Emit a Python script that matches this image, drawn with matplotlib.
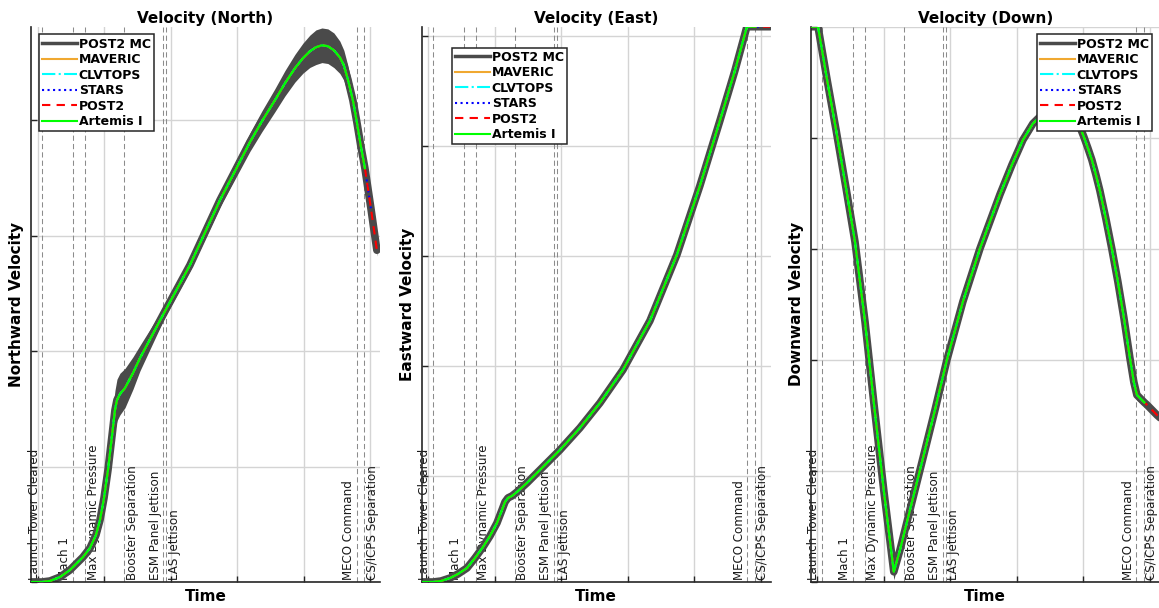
import numpy as np
import matplotlib
matplotlib.use("Agg")
import matplotlib.pyplot as plt
from matplotlib.lines import Line2D

# flight events (s from liftoff)
event_names = ["Launch Tower Cleared", "Mach 1", "Max Dynamic Pressure", "Booster Separation",
               "ESM Panel Jettison", "LAS Jettison", "MECO Command", "CS/ICPS Separation"]
event_times = [7, 53, 71, 130, 189, 193, 480, 491]
event_side = ["left", "left", "right", "right", "left", "right", "left", "right"]

artemis_end = 493   # flight data stops here
stars_end = 502

# northward velocity
t_north = [-10, 6.5, 18.6, 33.6, 48.6, 68.2, 78.7, 87.7, 93.8, 99.8, 105.8, 111.8, 116.3, 119.3,
           123.8, 131.4, 143.4, 153.9, 191.5, 229.1, 274.2, 319.3, 337.4, 356.9, 372.0, 387.0,
           399.0, 409.5, 418.6, 427.6, 436.6, 445.6, 454.6, 460.6, 466.6, 474.2, 480.2, 486.2,
           492.3, 501.3, 510.3]
v_north = [0, 0, 0.9, 4.3, 10.4, 21.6, 29.4, 40.7, 53.7, 72.7, 97.0, 126.4, 148.9, 157.6,
           162.8, 168.0, 181.0, 193.9, 234.6, 274.5, 330.7, 381.0, 399.1, 417.3, 432.0, 445.0,
           453.7, 459.7, 463.2, 464.9, 464.1, 460.6, 454.5, 447.6, 435.5, 417.3, 398.3, 377.5,
           358.4, 323.8, 287.4]
mc_north = [0, 0, 1, 2, 3, 3, 5, 7, 9, 11, 14, 16, 17, 18,
            18, 17, 14, 11, 5, 5, 6, 8, 9, 10, 11, 12,
            13, 14, 15, 15, 15, 15, 14, 13, 12, 10, 10, 9,
            7, 6, 5]

# eastward velocity
t_east = [-10, 7, 19, 32.6, 44.6, 58.1, 70.2, 82.2, 92.7, 103.2, 110.8, 115.3, 119.8, 125.8,
          133.3, 148.3, 167.9, 198, 228, 258.1, 292.7, 333.3, 373.9, 408.5, 438.6, 461.1,
          479.2, 492, 501, 514]
v_east = [40, 40, 49, 76, 113, 167, 258, 358, 458, 576, 695, 767, 804, 822,
          858, 940, 1058, 1240, 1440, 1667, 1967, 2413, 3013, 3640, 4231, 4685,
          5085, 5085, 5085, 5085]
mc_east = [0, 0, 2, 5, 8, 10, 14, 18, 20, 25, 30, 30, 30, 25,
           22, 20, 18, 18, 18, 18, 18, 20, 25, 30, 30, 30,
           0, 0, 0, 0]

# downward velocity
t_down = [-10, 1, 14.6, 28.1, 43.1, 56.6, 71.7, 85.3, 100.2, 115, 124.3, 139.3, 157.4, 176.9,
          194.9, 218.9, 244.5, 274.6, 292.7, 309.2, 324.3, 339.3, 354.4, 367.9, 381.4, 388.9,
          394.9, 400.9, 406.9, 413.0, 419.0, 425.0, 434.0, 443.0, 452.1, 461.1, 470.1, 476.1,
          480.7, 492, 495.7, 510.8, 522.8]
v_down = [0, 0, -119, -232, -363, -484, -664, -851, -1047, -1227, -1178, -1088, -980, -863,
          -750, -619, -500, -378, -311, -255, -218, -196, -185, -182, -194, -207,
          -225, -248, -273, -300, -333, -369, -432, -500, -574, -655, -745, -800,
          -829, -846, -851, -874, -890]
mc_down = [0, 0, 1, 1, 2, 2, 3, 3, 5, 18, 12, 14, 16, 17,
           17, 15, 13, 10, 8, 7, 6, 5, 5, 5, 5, 6,
           7, 8, 10, 12, 14, 16, 18, 20, 22, 22, 22, 20,
           12, 8, 7, 6, 6]

GRAY = "#4a4a4a"


def draw_panel(ax, t, v, mc, title, ylabel, ylim, yticks):
    t = np.array(t, dtype=float)
    v = np.array(v, dtype=float)
    mc = np.array(mc, dtype=float)

    ax.set_xlim(-10, 515)
    ax.set_ylim(ylim)
    ax.set_xticks([0, 100, 200, 300, 400, 500])
    ax.set_yticks(yticks)
    ax.tick_params(direction="in", length=4, width=1, labelleft=False, labelbottom=False,
                   color="#262626")
    ax.grid(True, color="#d4d4d4", lw=1)
    ax.set_axisbelow(True)
    for s in ["top", "right"]:
        ax.spines[s].set_visible(False)
    for s in ["left", "bottom"]:
        ax.spines[s].set_color("#262626")
        ax.spines[s].set_linewidth(1.2)

    # event lines and labels
    tr = ax.get_xaxis_transform()
    for name, te, side in zip(event_names, event_times, event_side):
        ax.axvline(te, color="#8c8c8c", lw=0.75, ls=(0, (5, 3)), zorder=1)
        if side == "left":
            ax.text(te - 2.5, 0.003, name, transform=tr, rotation=90, ha="right", va="bottom",
                    fontsize=8.6, color="#1a1a1a", zorder=1.5)
        else:
            ax.text(te + 2.5, 0.003, name, transform=tr, rotation=90, ha="left", va="bottom",
                    fontsize=8.6, color="#1a1a1a", zorder=1.5)

    # POST2 monte carlo spread
    ax.fill_between(t, v - mc, v + mc, color=GRAY, lw=0, zorder=2)
    ax.plot(t, v, color=GRAY, lw=5.5, solid_capstyle="round", solid_joinstyle="round", zorder=2)

    # sims
    a = t <= artemis_end
    st = t <= stars_end
    ax.plot(t[a], v[a], color="#f0a830", lw=1.5, zorder=3)
    ax.plot(t[a], v[a], color="#00ffff", lw=1.5, ls="-.", zorder=3)
    ax.plot(t[st], v[st], color="#0000ff", lw=1.5, ls=":", zorder=3)
    ax.plot(t, v, color="#ff0000", lw=1.5, ls=(0, (4, 3)), zorder=3)
    # flight
    ax.plot(t[a], v[a], color="#00ff00", lw=1.6, zorder=4)

    ax.set_title(title, fontsize=11, fontweight="bold", pad=3)
    ax.set_ylabel(ylabel, fontsize=11, fontweight="bold", labelpad=5)
    ax.set_xlabel("Time", fontsize=11, fontweight="bold", labelpad=5)


def add_legend(ax, **kw):
    handles = [
        Line2D([], [], color=GRAY, lw=2.5, label="POST2 MC"),
        Line2D([], [], color="#f0a830", lw=1.5, label="MAVERIC"),
        Line2D([], [], color="#00ffff", lw=1.5, ls="-.", label="CLVTOPS"),
        Line2D([], [], color="#0000ff", lw=1.5, ls=":", label="STARS"),
        Line2D([], [], color="#ff0000", lw=1.5, ls=(0, (4, 3)), label="POST2"),
        Line2D([], [], color="#00ff00", lw=1.5, label="Artemis I"),
    ]
    leg = ax.legend(handles=handles, prop={"weight": "bold", "size": 9}, fancybox=False,
                    framealpha=1, edgecolor="#262626", borderpad=0.25, labelspacing=0.2,
                    handlelength=2.8, handletextpad=0.15, **kw)
    leg.get_frame().set_linewidth(1.1)
    leg.set_zorder(10)


fig = plt.figure(figsize=(11.59, 6.08), dpi=100)
W, H = 1159.0, 608.0
bot = (H - 582) / H
hgt = 555.3 / H
wid = 349 / W

ax1 = fig.add_axes([31 / W, bot, wid, hgt])
draw_panel(ax1, t_north, v_north, mc_north, "Velocity (North)", "Northward Velocity",
           (0, 481), [0, 100, 200, 300, 400])
add_legend(ax1, loc="upper left", borderaxespad=0.62)

ax2 = fig.add_axes([421.7 / W, bot, wid, hgt])
draw_panel(ax2, t_east, v_east, mc_east, "Velocity (East)", "Eastward Velocity",
           (40, 5085), [1000, 2000, 3000, 4000, 5000])
add_legend(ax2, loc="upper left", bbox_to_anchor=(30 / 349, 1 - 21 / 555.3), borderaxespad=0)

ax3 = fig.add_axes([810.7 / W, bot, wid, hgt])
draw_panel(ax3, t_down, v_down, mc_down, "Velocity (Down)", "Downward Velocity",
           (-1250, 0), [-1250, -1000, -750, -500, -250, 0])
add_legend(ax3, loc="upper right", borderaxespad=0.62)

fig.savefig("out.png", dpi=100, facecolor="white")
